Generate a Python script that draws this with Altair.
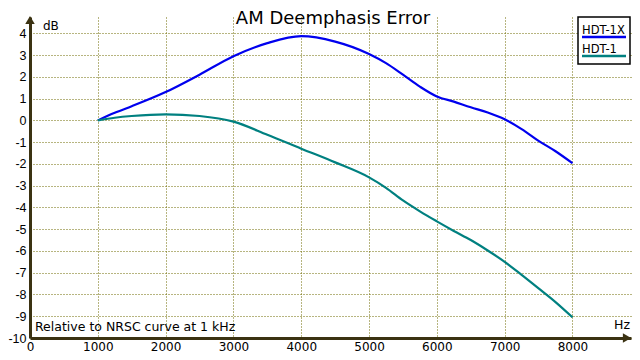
import altair as alt
import pandas as pd

# ---- data ----
freq = [1000, 1250, 1500, 2000, 2500, 3000, 3500, 4000, 4500, 5000, 5250, 5500,
        5750, 6000, 6250, 6500, 6750, 7000, 7250, 7500, 7750, 8000]
hdt_1x = [0.0, 0.35, 0.65, 1.3, 2.1, 2.95, 3.55, 3.87, 3.62, 3.05, 2.63, 2.1,
          1.55, 1.1, 0.86, 0.6, 0.36, 0.05, -0.4, -0.94, -1.42, -1.97]
hdt_1 = [0.0, 0.12, 0.2, 0.28, 0.2, -0.06, -0.66, -1.3, -1.93, -2.62, -3.1, -3.68,
         -4.18, -4.64, -5.08, -5.5, -5.98, -6.5, -7.1, -7.72, -8.35, -9.05]
series = ["HDT-1X", "HDT-1"]
colors = ["#0000ee", "#008080"]
x_ticks = [0, 1000, 2000, 3000, 4000, 5000, 6000, 7000, 8000]
y_ticks = list(range(-10, 5))
title_text = "AM Deemphasis Error"
note_text = "Relative to NRSC curve at 1 kHz"

W, H = 601, 321
AXIS = "#3b3212"
GRID = "#6e6a00"
FONT = "DejaVu Sans"

rows = []
for f, a, b in zip(freq, hdt_1x, hdt_1):
    rows.append({"f": f, "db": a, "s": series[0]})
    rows.append({"f": f, "db": b, "s": series[1]})
df = pd.DataFrame(rows)

xs = alt.Scale(domain=[0, 8863], nice=False, zero=False)
ys = alt.Scale(domain=[-10, 4.75], nice=False, zero=False)
cs = alt.Scale(domain=series, range=colors)

lines = alt.Chart(df).mark_line(strokeWidth=2.2, interpolate="monotone").encode(
    x=alt.X("f:Q", scale=xs, axis=alt.Axis(
        values=x_ticks, format="d", title=None, ticks=False, labelPadding=12,
        labelBaseline="alphabetic",
        labelFont=FONT, labelFontSize=12, labelColor="black",
        domainColor=AXIS, domainWidth=3,
        grid=True, gridColor=GRID, gridDash=[1, 2], gridWidth=1,
        labelFlush=False, labelOverlap=False)),
    y=alt.Y("db:Q", scale=ys, axis=alt.Axis(
        values=y_ticks, labelExpr="datum.value + ''", title=None, ticks=False,
        labelPadding=4, labelFont="Liberation Sans", labelFontSize=12.5,
        labelColor="black",
        domainColor=AXIS, domainWidth=3,
        grid=True, gridColor=GRID, gridDash=[1, 2], gridWidth=1,
        labelFlush=False, labelOverlap=False)),
    color=alt.Color("s:N", scale=cs, legend=None),
    detail="s:N",
)

one = pd.DataFrame({"k": [0]})

arrow_up = alt.Chart(one).mark_point(shape="triangle-up", filled=True, size=90,
                                     color=AXIS, opacity=1).encode(
    x=alt.value(0), y=alt.value(3))
arrow_right = alt.Chart(one).mark_point(shape="triangle-right", filled=True, size=90,
                                        color=AXIS, opacity=1).encode(
    x=alt.value(W - 4), y=alt.value(H))

title = alt.Chart(pd.DataFrame({"t": [title_text]})).mark_text(
    font=FONT, fontSize=18, align="center", baseline="alphabetic", color="black"
).encode(x=alt.value(303), y=alt.value(7), text="t:N")

db_lbl = alt.Chart(pd.DataFrame({"t": ["dB"]})).mark_text(
    font=FONT, fontSize=12, align="left", baseline="alphabetic", color="black"
).encode(x=alt.value(13), y=alt.value(13), text="t:N")

hz_lbl = alt.Chart(pd.DataFrame({"t": ["Hz"]})).mark_text(
    font=FONT, fontSize=12.5, align="right", baseline="alphabetic", color="black"
).encode(x=alt.value(W - 1), y=alt.value(312), text="t:N")

note = alt.Chart(pd.DataFrame({"t": [note_text]})).mark_text(
    font=FONT, fontSize=12.5, align="left", baseline="alphabetic", color="black"
).encode(x=alt.value(5), y=alt.value(314), text="t:N")

# legend box drawn by hand
box = alt.Chart(one).mark_rect(fill="white", stroke="black", strokeWidth=1.5).encode(
    x=alt.value(548), x2=alt.value(600), y=alt.value(0), y2=alt.value(47))

leg_df = pd.DataFrame({"s": series, "ty": [17, 36], "ly": [20, 39]})
leg_text = alt.Chart(leg_df).mark_text(
    font=FONT, fontSize=11.5, align="left", baseline="alphabetic", color="black"
).encode(x=alt.value(552), y=alt.Y("ty:Q", scale=None), text="s:N")
leg_line = alt.Chart(leg_df).mark_rule(strokeWidth=2.5).encode(
    x=alt.value(552), x2=alt.value(596), y=alt.Y("ly:Q", scale=None),
    color=alt.Color("s:N", scale=cs, legend=None))

chart = alt.layer(lines, arrow_up, arrow_right, title, db_lbl, hz_lbl, note,
                  box, leg_line, leg_text).properties(
    width=W, height=H,
    autosize=alt.AutoSizeParams(type="none"),
    padding={"left": 22, "top": 9, "right": 1, "bottom": 14},
    background="white",
).configure_view(stroke=None)

chart.save("out.html", embed_options={"renderer": "svg", "actions": False})
